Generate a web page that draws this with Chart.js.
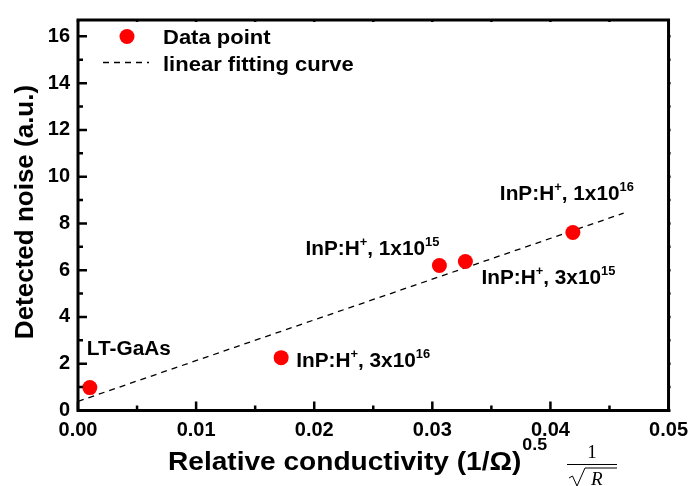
<!DOCTYPE html>
<html>
<head>
<meta charset="utf-8">
<script src="https://cdn.jsdelivr.net/npm/chart.js@4"></script>
<style>
  html, body { margin: 0; padding: 0; background: #fff; }
  #wrap { width: 696px; height: 486px; position: relative; }
</style>
</head>
<body>
<div id="wrap"><canvas id="chart"></canvas></div>
<script>
// samples
const samples = ['LT-GaAs', 'InP:H+ 3x10^16', 'InP:H+ 1x10^15', 'InP:H+ 3x10^15', 'InP:H+ 1x10^16'];
const conductivity = [0.001, 0.0172, 0.0306, 0.0328, 0.0419];
const noise = [0.98, 2.26, 6.2, 6.37, 7.61];

// linear fit end points
const fitX = [0, 0.0462];
const fitY = [0.39, 8.44];

// axis ticks
const xTicks = [0, 0.01, 0.02, 0.03, 0.04, 0.05];
const yTicks = [0, 2, 4, 6, 8, 10, 12, 14, 16];

// label text pieces: normal, superscript, normal, superscript
const labelParts = [
    ['LT-GaAs'],
    ['InP:H', '+', ', 3x10', '16'],
    ['InP:H', '+', ', 1x10', '15'],
    ['InP:H', '+', ', 3x10', '15'],
    ['InP:H', '+', ', 1x10', '16']
];
// where each label sits relative to its point (px)
const labelOffsets = [[-3, -33], [15, 9], [-134, -11], [16, 22], [-73, -33]];

const FONT = '"Liberation Sans", Arial, sans-serif';

function stretchText(ctx, s, x, y, size, sx) {
    ctx.save();
    ctx.translate(x, y);
    ctx.scale(sx, 1);
    ctx.font = 'bold ' + size + 'px ' + FONT;
    ctx.fillText(s, 0, 0);
    const w = ctx.measureText(s).width * sx;
    ctx.restore();
    return w;
}

function richText(ctx, parts, x, y, size, sx) {
    let cx = x;
    parts.forEach((p, i) => {
        if (i % 2 === 1) {
            cx += stretchText(ctx, p, cx, y - size * 0.45, size * 0.62, sx);
        } else {
            cx += stretchText(ctx, p, cx, y, size, sx);
        }
    });
}

const decorations = {
    id: 'decorations',
    afterDraw(chart) {
        const ctx = chart.ctx;
        const a = chart.chartArea;
        const xs = chart.scales.x;
        const ys = chart.scales.y;
        ctx.save();
        ctx.fillStyle = '#000';
        ctx.strokeStyle = '#000';
        ctx.textBaseline = 'alphabetic';
        ctx.textAlign = 'left';

        // tick marks
        ctx.lineWidth = 2.5;
        ctx.beginPath();
        for (let i = 0; i <= 10; i++) {
            const px = xs.getPixelForValue(i * 0.005);
            const len = i % 2 === 0 ? 9 : 5;
            ctx.moveTo(px, a.bottom);
            ctx.lineTo(px, a.bottom - len);
            ctx.moveTo(px, a.top);
            ctx.lineTo(px, a.top + 2);
        }
        for (let v = 0; v <= 16; v++) {
            const py = ys.getPixelForValue(v);
            const len = v % 2 === 0 ? 9 : 5;
            ctx.moveTo(a.left, py);
            ctx.lineTo(a.left + len, py);
            ctx.moveTo(a.right, py);
            ctx.lineTo(a.right + 2, py);
        }
        ctx.stroke();

        // frame
        ctx.lineWidth = 3;
        ctx.strokeRect(a.left, a.top, a.right - a.left, a.bottom - a.top);

        // point labels
        const meta = chart.getDatasetMeta(0);
        meta.data.forEach((pt, i) => {
            const off = labelOffsets[i];
            richText(ctx, labelParts[i], pt.x + off[0], pt.y + off[1], 20, 1.04);
        });

        // legend
        ctx.fillStyle = '#ff0000';
        ctx.beginPath();
        ctx.arc(127, 36.5, 7.5, 0, Math.PI * 2);
        ctx.fill();
        ctx.fillStyle = '#000';
        ctx.lineWidth = 1.3;
        ctx.setLineDash([6, 5]);
        ctx.beginPath();
        ctx.moveTo(103, 62.5);
        ctx.lineTo(149, 62.5);
        ctx.stroke();
        ctx.setLineDash([]);
        stretchText(ctx, 'Data point', 163, 43.5, 20, 1.1);
        stretchText(ctx, 'linear fitting curve', 163, 71, 20, 1.1);

        // x title
        let w = stretchText(ctx, 'Relative conductivity (1/\u03a9)', 168, 470, 26, 1.08);
        stretchText(ctx, '0.5', 168 + w + 1, 450, 17, 1.05);

        // 1/sqrt(R)
        ctx.font = '19px "Liberation Serif", "Times New Roman", serif';
        ctx.textAlign = 'center';
        ctx.fillText('1', 592, 458);
        ctx.lineWidth = 1;
        ctx.beginPath();
        ctx.moveTo(567, 464.5);
        ctx.lineTo(617, 464.5);
        ctx.moveTo(569, 478);
        ctx.lineTo(572.5, 476);
        ctx.lineTo(577, 486);
        ctx.lineTo(585, 468);
        ctx.lineTo(617, 468);
        ctx.stroke();
        ctx.font = 'italic 19px "Liberation Serif", "Times New Roman", serif';
        ctx.textAlign = 'left';
        ctx.fillText('R', 591, 485);

        // y title
        ctx.save();
        ctx.translate(33, 212);
        ctx.rotate(-Math.PI / 2);
        ctx.textAlign = 'center';
        ctx.font = 'bold 26px ' + FONT;
        ctx.fillText('Detected noise (a.u.)', 0, 0);
        ctx.restore();

        ctx.restore();
    }
};

const tickFont = { family: FONT, size: 20, weight: 'bold' };

new Chart(document.getElementById('chart'), {
    type: 'scatter',
    data: {
        datasets: [{
            label: 'Data point',
            data: conductivity.map((c, i) => ({ x: c, y: noise[i] })),
            backgroundColor: '#ff0000',
            borderWidth: 0,
            pointRadius: 7.5,
            pointHoverRadius: 7.5
        }, {
            label: 'linear fitting curve',
            data: fitX.map((c, i) => ({ x: c, y: fitY[i] })),
            showLine: true,
            borderColor: '#000',
            borderWidth: 1.3,
            borderDash: [6, 5],
            pointRadius: 0,
            fill: false
        }]
    },
    options: {
        responsive: true,
        maintainAspectRatio: false,
        animation: false,
        devicePixelRatio: 1,
        layout: { padding: { left: 0, right: 24, top: 7, bottom: 0 } },
        plugins: {
            legend: { display: false },
            tooltip: { enabled: false }
        },
        scales: {
            x: {
                type: 'linear',
                min: 0,
                max: 0.05,
                grid: { display: false, drawTicks: false },
                border: { display: false },
                ticks: {
                    font: tickFont,
                    color: '#000',
                    padding: 8,
                    maxRotation: 0,
                    autoSkip: false,
                    callback: v => v.toFixed(2)
                },
                afterBuildTicks: s => { s.ticks = xTicks.map(v => ({ value: v })); },
                afterFit: s => { s.height = 75.5; }
            },
            y: {
                type: 'linear',
                min: 0,
                max: 16.7,
                grid: { display: false, drawTicks: false },
                border: { display: false },
                ticks: {
                    font: tickFont,
                    color: '#000',
                    padding: 8,
                    autoSkip: false,
                    callback: v => String(v)
                },
                afterBuildTicks: s => { s.ticks = yTicks.map(v => ({ value: v })); },
                afterFit: s => { s.width = 78; }
            }
        }
    },
    plugins: [decorations]
});
</script>
</body>
</html>
